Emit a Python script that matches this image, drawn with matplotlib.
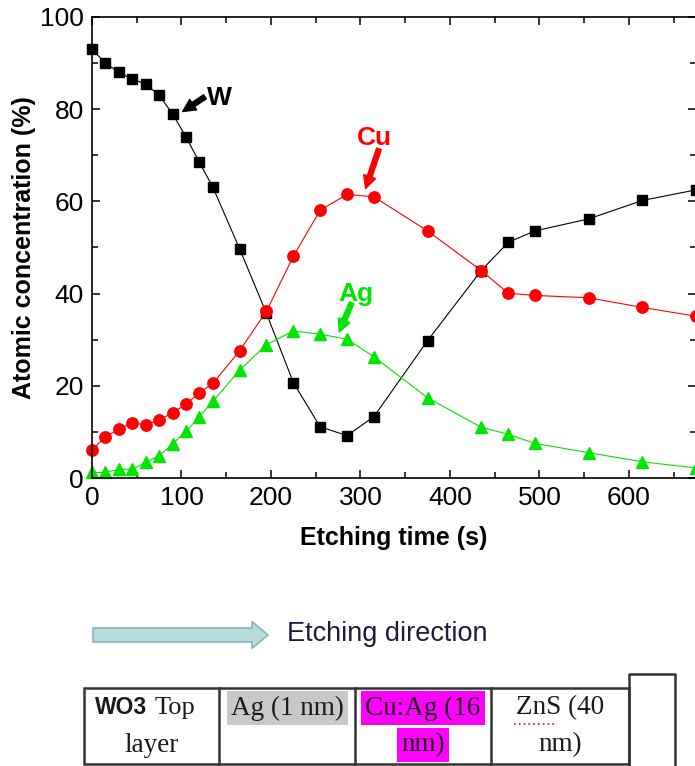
import matplotlib
matplotlib.use('Agg')
import matplotlib.pyplot as plt
from matplotlib.patches import FancyArrow, Rectangle
from matplotlib.ticker import MultipleLocator

# Depth profile data
etch_time = [0, 15, 30, 45, 60, 75, 90, 105, 120, 135,
             165, 195, 225, 255, 285, 315,
             375, 435, 465, 495, 555, 615, 675]
w_conc = [93.0, 90.0, 88.0, 86.5, 85.5, 83.0, 79.0, 74.0, 68.5, 63.1,
          49.7, 35.7, 20.7, 11.1, 9.2, 13.3,
          29.8, 45.0, 51.1, 53.6, 56.2, 60.2, 62.5]
cu_conc = [6.1, 8.9, 10.6, 12.0, 11.5, 12.6, 14.1, 16.0, 18.5, 20.5,
           27.6, 36.2, 48.1, 58.1, 61.5, 61.0,
           53.6, 45.0, 40.1, 39.6, 39.1, 37.0, 35.1]
ag_conc = [1.2, 1.2, 1.9, 1.9, 3.4, 4.8, 7.4, 10.1, 13.3, 16.6,
           23.4, 28.9, 31.9, 31.2, 30.1, 26.3,
           17.4, 11.0, 9.5, 7.5, 5.5, 3.5, 2.2]

# element labels: text, text position, arrow tail, arrow tip (data coords)
labels = ['W', 'Cu', 'Ag']
label_colors = ['black', '#ff0000', '#00e600']
label_pos = [(142, 80.9), (315.6, 72.2), (295, 38.3)]
arrow_tail = [(126.3, 82.7), (320.7, 71.4), (290.2, 38.0)]
arrow_tip = [(101.4, 79.5), (305.8, 62.8), (276.3, 31.7)]

# layer stack below the plot
layer_lines = [['Top', 'layer'], ['Ag (1 nm)', ''], ['Cu:Ag (16', 'nm)'], ['ZnS (40', 'nm)']]
layer_highlight = [None, '#c8c8c8', '#ff00ff', None]
col_edges = [84, 219, 355, 491, 629]

plt.rcParams['font.family'] = ['Liberation Sans', 'DejaVu Sans']

fig = plt.figure(figsize=(6.95, 7.66), dpi=100)
ax = fig.add_axes([92 / 695, 1 - 478 / 766, 604 / 695, 461 / 766])

ax.plot(etch_time, w_conc, color='black', lw=0.8, marker='s', ms=7.5, clip_on=False)
ax.plot(etch_time, cu_conc, color='#ff0000', lw=0.8, marker='o', ms=8.2, clip_on=False)
ax.plot(etch_time, ag_conc, color='#00e600', lw=0.8, marker='^', ms=9, clip_on=False)

ax.set_xlim(0, 675)
ax.set_ylim(0, 100)
ax.xaxis.set_major_locator(MultipleLocator(100))
ax.xaxis.set_minor_locator(MultipleLocator(50))
ax.yaxis.set_major_locator(MultipleLocator(20))
ax.yaxis.set_minor_locator(MultipleLocator(10))
ax.tick_params(which='both', direction='in', top=True, right=True, labelsize=19, width=1.1, pad=6)
ax.tick_params(which='major', length=6)
ax.tick_params(which='minor', length=4)
for s in ax.spines.values():
    s.set_linewidth(1.2)

ax.set_xlabel('Etching time (s)', fontsize=18, fontweight='bold', labelpad=11)
ax.set_ylabel('Atomic concentration (%)', fontsize=18, fontweight='bold', labelpad=3)

for lab, col, pos, tail, tip in zip(labels, label_colors, label_pos, arrow_tail, arrow_tip):
    ax.text(pos[0], pos[1], lab, color=col, fontsize=19, fontweight='bold',
            ha='center', va='baseline')
    ax.annotate('', xy=tip, xytext=tail,
                arrowprops=dict(arrowstyle='simple,head_width=0.9,head_length=0.9,tail_width=0.35',
                                color=col, shrinkA=0, shrinkB=0, mutation_scale=10))

# overlay in pixel units for the etching arrow and the layer table
ov = fig.add_axes([0, 0, 1, 1], zorder=-1)
ov.set_xlim(0, 695)
ov.set_ylim(766, 0)
ov.axis('off')

ov.add_patch(FancyArrow(93, 635, 175, 0, width=14, head_width=27, head_length=16,
                        length_includes_head=True, facecolor='#b4dcdc', edgecolor='#8cb4b8', lw=1.2))
ov.text(287, 634, 'Etching direction', fontsize=19.5, color='#1c1c3c', ha='left', va='center')

edge = '#333333'
ov.add_patch(Rectangle((col_edges[0], 688), col_edges[-1] - col_edges[0], 76,
                       fill=False, edgecolor=edge, lw=1.8))
for xe in col_edges[1:-1]:
    ov.plot([xe, xe], [688, 764], color=edge, lw=1.8)
ov.plot([629, 629, 675, 675], [766, 674, 674, 766], color=edge, lw=1.8)

serif = ['Liberation Serif', 'DejaVu Serif']
for i, (lines, hl) in enumerate(zip(layer_lines, layer_highlight)):
    xc = (col_edges[i] + col_edges[i + 1]) / 2
    bb = dict(facecolor=hl, edgecolor='none', pad=3) if hl else None
    if i == 0:
        ov.text(95, 708, 'WO3', fontsize=16.5, fontweight='bold', color='#1a1a1a', ha='left', va='center')
        ov.text(155, 708, lines[0], fontsize=19, family=serif, color='#1a1a1a', ha='left', va='center')
    else:
        ov.text(xc, 708, lines[0], fontsize=19.5, family=serif, color='#1a1a1a', ha='center', va='center', bbox=bb)
    if lines[1]:
        b2 = dict(facecolor=hl, edgecolor='none', pad=3) if hl else None
        ov.text(xc, 745, lines[1], fontsize=19.5, family=serif, color='#1a1a1a', ha='center', va='center', bbox=b2)

# red spell-check underlines
ov.plot([364, 426], [724, 724], color='#ff2020', lw=1.3, ls=':', zorder=5)
ov.plot([514, 557], [724, 724], color='#ff2020', lw=1.3, ls=':', zorder=5)

fig.savefig('out.png', dpi=100)
